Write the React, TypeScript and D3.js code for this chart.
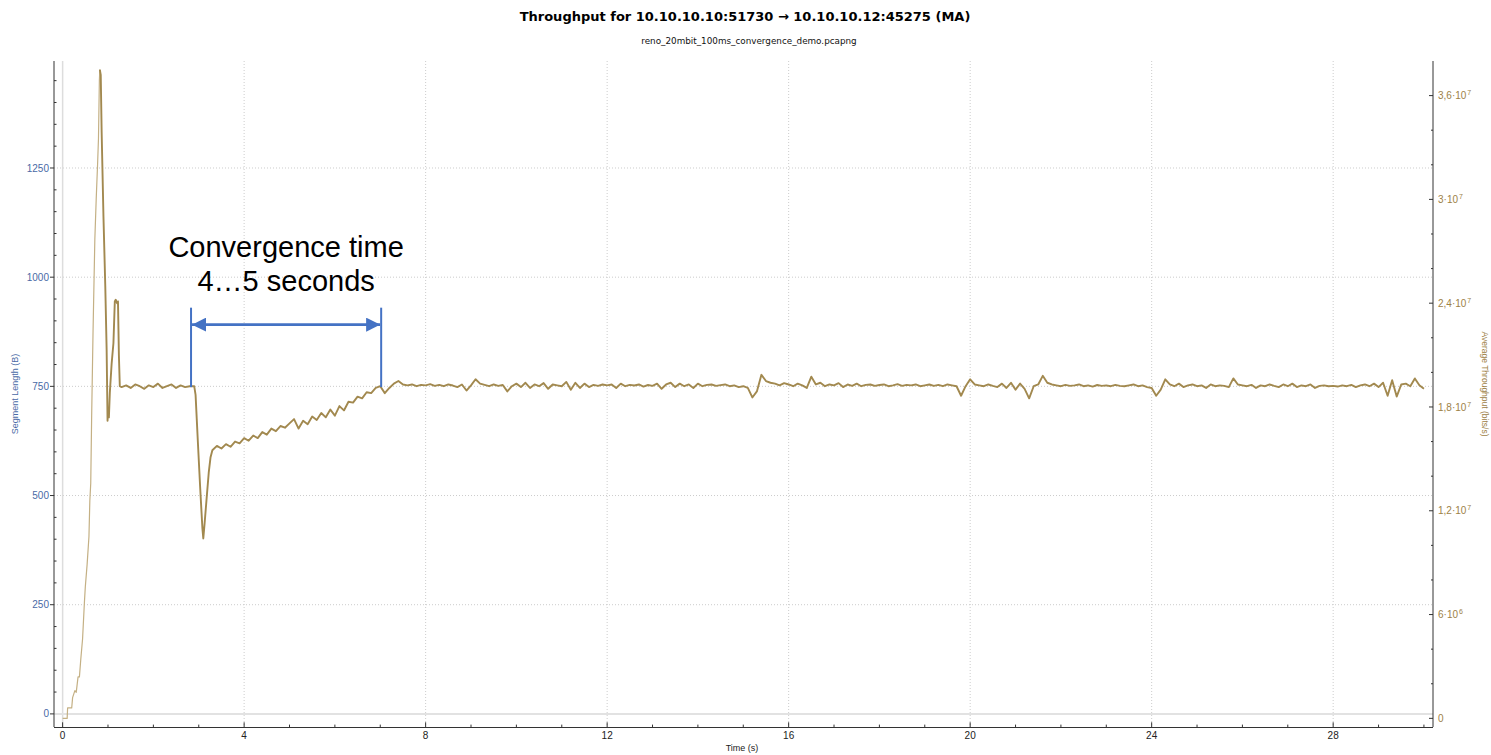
import React from "react";
import * as d3 from "d3";

const W = 1491;
const H = 755;

// slow start, overshoot and the loss dip: [seconds, Mbit/s]
const startupPoints: [number, number][] = [
  [0, 0], [0.1, 0], [0.11, 0.6], [0.2, 0.6], [0.22, 1.2], [0.27, 1.6], [0.3, 1.5],
  [0.34, 2.4], [0.37, 2.4], [0.4, 3.4], [0.44, 4.6], [0.48, 6.7], [0.5, 7.6],
  [0.54, 8.9], [0.58, 10.5], [0.6, 12.6], [0.62, 13.6], [0.64, 17.5], [0.67, 22.3],
  [0.71, 27.7], [0.74, 30.0], [0.77, 32.0], [0.79, 33.5], [0.81, 36.9], [0.82, 37.5],
  [0.84, 37.2], [0.86, 33.9], [0.9, 29.0], [0.94, 25.0], [0.97, 21.3], [0.99, 17.2],
  [1.0, 17.8], [1.02, 17.4], [1.04, 18.8], [1.08, 20.5], [1.12, 21.7], [1.15, 24.1],
  [1.17, 24.2], [1.2, 24.0], [1.22, 24.1], [1.24, 21.0], [1.26, 19.2], [1.3, 19.15],
  [1.4, 19.25], [1.5, 19.1], [1.6, 19.3], [1.7, 19.2], [1.8, 19.05], [1.9, 19.25],
  [2.0, 19.15], [2.1, 19.35], [2.2, 19.1], [2.3, 19.2], [2.4, 19.3], [2.5, 19.1],
  [2.6, 19.25], [2.7, 19.15], [2.8, 19.2], [2.9, 19.2], [2.93, 18.7], [2.98, 16.0],
  [3.03, 13.4], [3.08, 11.0], [3.1, 10.4], [3.13, 11.3], [3.17, 12.6], [3.22, 14.2],
  [3.26, 15.1],
];

// from 3.3 s on, the moving average read every 0.1 s (Mbit/s)
const sampledStart = 3.3;
const sampledStep = 0.1;
const sampledMbps = [
  15.5, 15.75, 15.6, 15.85, 15.7, 16.0, 15.9,
  16.2, 16.05, 16.35, 16.2, 16.55, 16.4, 16.75, 16.6, 16.9, 16.8,
  17.05, 17.3, 16.75, 17.2, 17.0, 17.45, 17.25, 17.65, 17.4, 17.85,
  17.5, 18.05, 17.8, 18.3, 18.25, 18.6, 18.5, 18.85, 18.8, 19.1,
  19.2, 18.8, 19.1, 19.35, 19.5, 19.3, 19.25, 19.3, 19.2, 19.28,
  19.25, 19.32, 19.22, 19.28, 19.2, 19.3, 19.24, 19.15, 19.3, 18.95,
  19.25, 19.6, 19.35, 19.28, 19.2, 19.3, 19.22, 19.27, 18.9, 19.2,
  19.35, 19.15, 19.4, 19.1, 19.3, 19.2, 19.38, 19.05, 19.3, 19.25,
  19.2, 19.45, 19.0, 19.4, 19.1, 19.35, 19.15, 19.28, 19.22, 19.3,
  19.25, 19.3, 19.1, 19.35, 19.2, 19.28, 19.24, 19.3, 19.18, 19.27,
  19.22, 19.35, 19.05, 19.3, 19.4, 19.15, 19.35, 19.2, 19.3, 19.1,
  19.35, 19.2, 19.28, 19.3, 19.22, 19.26, 19.3, 19.2, 19.25, 19.15,
  19.2, 19.1, 18.55, 18.9, 19.86, 19.5, 19.4, 19.35, 19.25, 19.38,
  19.3, 19.2, 19.35, 19.25, 19.1, 19.75, 19.3, 19.4, 19.2, 19.3,
  19.25, 19.38, 19.15, 19.3, 19.22, 19.35, 19.2, 19.28, 19.3, 19.22,
  19.27, 19.3, 19.2, 19.25, 19.32, 19.22, 19.28, 19.25, 19.3, 19.2,
  19.25, 19.3, 19.22, 19.28, 19.2, 19.3, 19.25, 19.2, 18.65, 19.2,
  19.6, 19.3, 19.25, 19.2, 19.3, 19.22, 19.15, 19.35, 19.1, 19.4,
  19.0, 19.35, 19.05, 18.5, 19.2, 19.3, 19.8, 19.4, 19.3, 19.25,
  19.2, 19.28, 19.22, 19.25, 19.3, 19.2, 19.25, 19.18, 19.27, 19.22,
  19.25, 19.2, 19.28, 19.22, 19.2, 19.25, 19.3, 19.2, 19.25, 19.15,
  19.1, 18.65, 19.0, 19.6, 19.3, 19.2, 19.35, 19.15, 19.25, 19.3,
  19.2, 19.25, 19.1, 19.3, 19.2, 19.25, 19.22, 19.15, 19.65, 19.3,
  19.25, 19.2, 19.28, 19.1, 19.25, 19.2, 19.3, 19.22, 19.15, 19.3,
  19.2, 19.35, 19.15, 19.25, 19.2, 19.3, 19.1, 19.22, 19.25, 19.2,
  19.22, 19.18, 19.25, 19.2, 19.28, 19.15, 19.25, 19.3, 19.2, 19.35,
  19.15, 19.4, 18.65, 19.55, 18.6, 19.3, 19.35, 19.2, 19.65, 19.25,
  19.05,
];

const xTicks = [0, 4, 8, 12, 16, 20, 24, 28];
const leftTicks = [0, 250, 500, 750, 1000, 1250];
const rightTicks = [0, 6, 12, 18, 24, 30, 36]; // Mbit/s
const rightTickLabels = [
  ["0", ""], ["6·10", "6"], ["1,2·10", "7"], ["1,8·10", "7"],
  ["2,4·10", "7"], ["3·10", "7"], ["3,6·10", "7"],
];

// annotation, in data units (s, Mbit/s)
const convStart = 2.83;
const convEnd = 7.02;
const convBottom = 19.15;
const convTop = 23.74;
const convArrow = 22.76;
const rampEnd = 0.82; // the thin, fast-rising part of slow start

const margin = { left: 54, right: 58, top: 61, bottom: 28 };
const lineColor = "#a2894f";
const blueText = "#4a6aa6";
const goldText = "#9d8146";

export default function App() {
  const x = d3.scaleLinear().domain([-0.19, 30.2]).range([margin.left, W - margin.right]);
  const yL = d3.scaleLinear().domain([-30, 1495]).range([H - margin.bottom, margin.top]);
  const yR = d3.scaleLinear().domain([-0.5, 38]).range([H - margin.bottom, margin.top]);

  const x0 = margin.left;
  const x1 = W - margin.right;
  const yb = H - margin.bottom;
  const yt = margin.top;

  const points: [number, number][] = startupPoints.concat(
    sampledMbps.map((v, i) => [sampledStart + i * sampledStep, v] as [number, number])
  );
  const ramp = points.filter((d) => d[0] <= rampEnd);
  const rest = points.filter((d) => d[0] >= rampEnd);
  const line = d3
    .line<[number, number]>()
    .x((d) => x(d[0]))
    .y((d) => yR(d[1]));

  const xMinor = d3.range(0, 31, 1).filter((t) => t % 4 !== 0);
  const leftMinor = d3.range(50, 1451, 50).filter((v) => v % 250 !== 0);
  const rightMinor = d3.range(2, 37, 2).filter((v) => v % 6 !== 0);

  const aX0 = x(convStart);
  const aX1 = x(convEnd);
  const aY = yR(convArrow);
  const mid = (aX0 + aX1) / 2;

  return (
    <svg
      width={W}
      height={H}
      style={{ position: "absolute", left: 0, top: 0, background: "#fff" }}
    >
      <defs>
        <marker id="ah" viewBox="0 0 10 10" refX="10" refY="5" markerWidth="5.6" markerHeight="5.4" orient="auto-start-reverse" markerUnits="strokeWidth">
          <path d="M0,0 L10,5 L0,10 z" fill="#4472c4" />
        </marker>
      </defs>

      {/* title */}
      <text x={745} y={21} textAnchor="middle" fontFamily="DejaVu Sans" fontWeight="bold" fontSize={13} fill="#000">
        Throughput for 10.10.10.10:51730 → 10.10.10.12:45275 (MA)
      </text>
      <text x={749} y={44} textAnchor="middle" fontFamily="DejaVu Sans" fontSize={8.8} fill="#111">
        reno_20mbit_100ms_convergence_demo.pcapng
      </text>

      {/* grid */}
      <g>
        {xTicks.filter((t) => t !== 0).map((t) => (
          <line key={"gx" + t} x1={x(t)} x2={x(t)} y1={yt} y2={yb} stroke="#cccccc" strokeDasharray="1,2" />
        ))}
        {leftTicks.filter((v) => v !== 0).map((v) => (
          <line key={"gy" + v} x1={x0} x2={x1} y1={yL(v)} y2={yL(v)} stroke="#cccccc" strokeDasharray="1,2" />
        ))}
        <line x1={x(0)} x2={x(0)} y1={yt} y2={yb} stroke="#dddddd" strokeWidth={1.5} />
        <line x1={x0} x2={x1} y1={yL(0)} y2={yL(0)} stroke="#e2e2e2" strokeWidth={2} />
      </g>

      {/* data */}
      <path d={line(ramp) || ""} fill="none" stroke="#c4b084" strokeWidth={1.2} strokeLinejoin="round" />
      <path d={line(rest) || ""} fill="none" stroke={lineColor} strokeWidth={1.9} strokeLinejoin="round" />

      {/* axes */}
      <g stroke="#333" strokeWidth={1} fill="none">
        <line x1={x0} x2={x0} y1={yt} y2={yb} />
        <line x1={x1} x2={x1} y1={yt} y2={yb} />
        <line x1={x0} x2={x1} y1={yb + 0.5} y2={yb + 0.5} />
        {xTicks.map((t) => (
          <line key={"xt" + t} x1={x(t)} x2={x(t)} y1={yb} y2={yb - 4.7} />
        ))}
        {xMinor.map((t) => (
          <line key={"xm" + t} x1={x(t)} x2={x(t)} y1={yb} y2={yb - 2.4} />
        ))}
        {leftTicks.map((v) => (
          <line key={"lt" + v} x1={x0 - 4} x2={x0} y1={yL(v)} y2={yL(v)} />
        ))}
        {leftMinor.map((v) => (
          <line key={"lm" + v} x1={x0} x2={x0 + 2.5} y1={yL(v)} y2={yL(v)} />
        ))}
        {rightTicks.map((v) => (
          <line key={"rt" + v} x1={x1 - 4} x2={x1} y1={yR(v)} y2={yR(v)} />
        ))}
        {rightMinor.map((v) => (
          <line key={"rm" + v} x1={x1 - 2} x2={x1} y1={yR(v)} y2={yR(v)} />
        ))}
      </g>

      {/* tick labels */}
      <g fontFamily="Liberation Sans" fontSize={10}>
        {xTicks.map((t) => (
          <text key={"xl" + t} x={x(t)} y={yb + 12} textAnchor="middle" fill="#222">
            {t}
          </text>
        ))}
        {leftTicks.map((v) => (
          <text key={"ll" + v} x={x0 - 5} y={yL(v) + 3.6} textAnchor="end" fill={blueText}>
            {v}
          </text>
        ))}
        {rightTicks.map((v, i) => (
          <text key={"rl" + v} x={x1 + 5} y={yR(v) + 3.6} fill={goldText}>
            {rightTickLabels[i][0]}
            {rightTickLabels[i][1] && (
              <tspan fontSize={7} dx={1} dy={-4}>
                {rightTickLabels[i][1]}
              </tspan>
            )}
          </text>
        ))}
      </g>

      {/* axis titles */}
      <text transform={`translate(17.5, ${(yt + yb) / 2}) rotate(-90)`} textAnchor="middle" fontFamily="Liberation Sans" fontSize={9} fill={blueText}>
        Segment Length (B)
      </text>
      <text transform={`translate(1482, 384) rotate(90)`} textAnchor="middle" fontFamily="Liberation Sans" fontSize={8.5} fill={goldText}>
        Average Throughput (bits/s)
      </text>
      <text x={742} y={751} textAnchor="middle" fontFamily="Liberation Sans" fontSize={9} fill="#222">
        Time (s)
      </text>

      {/* convergence annotation */}
      <g stroke="#4472c4">
        <line x1={aX0} x2={aX0} y1={yR(convTop)} y2={yR(convBottom)} strokeWidth={2} />
        <line x1={aX1} x2={aX1} y1={yR(convTop)} y2={yR(convBottom)} strokeWidth={2} />
        <line x1={aX0 + 1} x2={aX1 - 1} y1={aY} y2={aY} strokeWidth={2.6} markerStart="url(#ah)" markerEnd="url(#ah)" />
      </g>
      <g fontFamily="Liberation Sans" fontSize={29} fill="#000" textAnchor="middle">
        <text x={mid} y={257}>Convergence time</text>
        <text x={mid} y={291}>4…5 seconds</text>
      </g>
    </svg>
  );
}
